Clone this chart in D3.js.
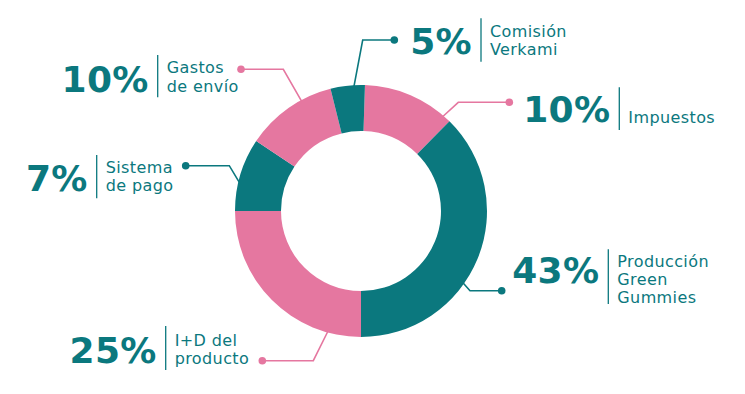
<!DOCTYPE html>
<html>
<head>
<meta charset="utf-8">
<script src="https://cdn.jsdelivr.net/npm/d3@7"></script>
<style>
  body { margin: 0; background: #fff; }
  svg { display: block; }
</style>
</head>
<body>
<div id="chart"></div>
<script>
// slices, clockwise from the top
var categories = ["Impuestos", "Producción Green Gummies", "I+D del producto", "Sistema de pago", "Gastos de envío", "Comisión Verkami"]
var percents = [10, 43, 25, 7, 10, 5]
// slice sizes as drawn in the picture (degrees of the ring)
var arcShares = [42.8, 135.4, 90, 33.7, 42.3, 15.8]
var labelLines = [["Impuestos"], ["Producción", "Green", "Gummies"], ["I+D del", "producto"], ["Sistema", "de pago"], ["Gastos", "de envío"], ["Comisión", "Verkami"]]

var teal = "#0b787e", pink = "#e577a0"
var sliceColors = [pink, teal, pink, teal, pink, teal]

// label placement (separator x, number baseline, first text line, separator top/bottom, leader angle, elbow, dot)
var layout = [
  {sx: 619.3, base: 121.7, first: 123.3, top: 87.3, bot: 130, ang: 40.9, elbow: [458.3, 102.3], dot: [509.3, 102.3]},
  {sx: 608.3, base: 283.3, first: 266.7, top: 249.3, bot: 304, ang: 125.2, elbow: [470, 290.7], dot: [501.7, 290.7]},
  {sx: 165.7, base: 363.3, first: 346, top: 326, bot: 370, ang: 195.4, elbow: [313.3, 360.7], dot: [262.3, 360.7]},
  {sx: 96.7, base: 190.7, first: 172.7, top: 155, bot: 198.3, ang: -76.8, elbow: [229.3, 165.7], dot: [185.7, 165.7]},
  {sx: 157.7, base: 91.7, first: 73.3, top: 55, bot: 97.3, ang: -28.4, elbow: [283.3, 69.3], dot: [241, 69.3]},
  {sx: 481, base: 54.3, first: 36.7, top: 18.3, bot: 61.7, ang: 356.8, elbow: [362.7, 40], dot: [394.3, 40]}
]

var width = 745, height = 394
var cx = 361, cy = 211, outerR = 126, innerR = 80
var rad = Math.PI / 180
var startA = 1.8 * rad

var svg = d3.select("#chart").append("svg")
    .attr("width", width)
    .attr("height", height)

var pie = d3.pie().sort(null).value(function(d){ return d })
    .startAngle(startA).endAngle(startA + 2 * Math.PI)
var arc = d3.arc().innerRadius(innerR).outerRadius(outerR)

var ring = svg.append("g").attr("transform", "translate(" + cx + "," + cy + ")")
ring.selectAll("path")
    .data(pie(arcShares))
    .enter().append("path")
        .attr("d", arc)
        .attr("fill", function(d, i){ return sliceColors[i] })

// leader lines
var leaders = svg.append("g")
categories.forEach(function(c, i){
    var L = layout[i]
    var p = d3.pointRadial(L.ang * rad, outerR - 1)
    var pts = [[cx + p[0], cy + p[1]], L.elbow, L.dot]
    leaders.append("path")
        .attr("d", d3.line()(pts))
        .attr("fill", "none")
        .attr("stroke", sliceColors[i])
        .attr("stroke-width", 1.6)
    leaders.append("circle")
        .attr("cx", L.dot[0]).attr("cy", L.dot[1])
        .attr("r", 3.8)
        .attr("fill", sliceColors[i])
})

// labels
var labels = svg.append("g")
categories.forEach(function(c, i){
    var L = layout[i]
    labels.append("text")
        .attr("x", L.sx - 9)
        .attr("y", L.base)
        .attr("text-anchor", "end")
        .attr("font-family", "DejaVu Sans")
        .attr("font-weight", "bold")
        .attr("font-size", 36)
        .attr("letter-spacing", 0.3)
        .attr("fill", teal)
        .text(percents[i] + "%")
    labels.append("line")
        .attr("x1", L.sx).attr("x2", L.sx)
        .attr("y1", L.top).attr("y2", L.bot)
        .attr("stroke", teal)
        .attr("stroke-width", 1.3)
    labelLines[i].forEach(function(t, j){
        labels.append("text")
            .attr("x", L.sx + 9)
            .attr("y", L.first + j * 18.3)
            .attr("font-family", "DejaVu Sans")
            .attr("font-size", 16)
            .attr("letter-spacing", 0.4)
            .attr("fill", teal)
            .text(t)
    })
})
</script>
</body>
</html>
